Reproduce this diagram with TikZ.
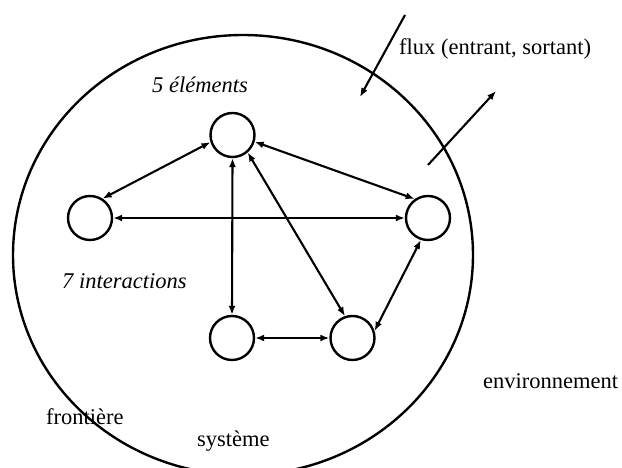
\documentclass[tikz,border=0pt]{standalone}
\usepackage{fontspec}
\setmainfont{Liberation Serif}
\usetikzlibrary{arrows.meta}

\begin{document}
\begin{tikzpicture}[
    x=1pt,y=1pt,
    elem/.style={circle,draw,line width=2.4pt,minimum size=44pt,inner sep=0pt},
    arr/.style={{Latex[length=9pt,width=7pt]}-{Latex[length=9pt,width=7pt]},line width=2.1pt},
    flux/.style={-{Latex[length=9pt,width=7pt]},line width=2.1pt},
    lbl/.style={anchor=base west,inner sep=0pt,font=\fontsize{22.5}{27}\selectfont}
  ]
    \clip (0,0) rectangle (622,468);
    % systeme et frontiere
    \draw[line width=2.4pt] (243,213) ellipse [x radius=230,y radius=220];
    % les 5 elements
    \node[elem] (haut) at (232.5,333) {};
    \node[elem] (gauche) at (90,250) {};
    \node[elem] (droite) at (428,250) {};
    \node[elem] (basg) at (232,130) {};
    \node[elem] (basd) at (352.5,130) {};
    % les 7 interactions
    \draw[arr] (haut.198)--(gauche.57);
    \draw[arr] (haut.343)--(droite.125);
    \draw[arr] (gauche.east)--(droite.west);
    \draw[arr] (haut.south)--(basg.north);
    \draw[arr] (haut.311)--(basd.109);
    \draw[arr] (basd.18)--(droite.252);
    \draw[arr] (basg.east)--(basd.west);
    % flux
    \coordinate (inA) at (405,453);
    \coordinate (inB) at (360,371);
    \coordinate (outA) at (428,303);
    \coordinate (outB) at (496,377);
    \draw[flux] (inA)--(inB);
    \draw[flux] (outA)--(outB);
    % textes
    \node[lbl] (tflux) at (399,413) {flux (entrant, sortant)};
    \node[lbl,font=\fontsize{22.5}{27}\selectfont\itshape] (telem) at (152,375) {5 éléments};
    \node[lbl,font=\fontsize{22.5}{27}\selectfont\itshape] (tinter) at (62,179) {7 interactions};
    \node[lbl] (tenv) at (483,79) {environnement};
    \node[lbl] (tfront) at (46,43) {frontière};
    \node[lbl] (tsys) at (197,21) {système};
  \end{tikzpicture}
\end{document}
